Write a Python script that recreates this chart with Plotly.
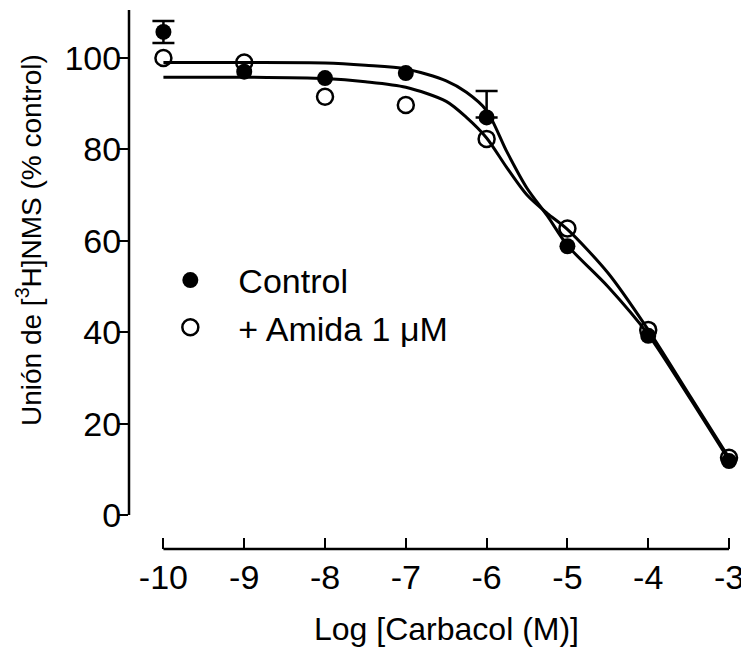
import plotly.graph_objects as go

# ---- data ----
log_carbacol = [-10, -9, -8, -7, -6, -5, -4, -3]
control_vals = [105.7, 97.0, 95.6, 96.7, 87.0, 58.8, 39.2, 11.8]
control_err_up = [2.4, 0, 0, 0, 5.8, 0, 0, 0]
control_err_down = [2.4, 0, 0, 0, 0, 0, 0, 0]
amida_vals = [100.0, 99.0, 91.5, 89.7, 82.3, 62.7, 40.5, 12.5]

# fitted curves
fit_x = [-10, -9, -8, -7.5, -7, -6.5, -6.25, -6, -5.75, -5.5, -5.25, -5, -4.5, -4, -3.5, -3]
fit_control = [99.0, 99.0, 98.9, 98.4, 97.6, 95.0, 92.5, 88.5, 79.5, 71.5, 65.5, 59.0, 50.0, 39.5, 26.0, 12.0]
fit_amida = [95.8, 95.8, 95.5, 94.8, 93.6, 90.5, 87.0, 82.5, 76.0, 70.0, 66.0, 62.5, 53.0, 40.5, 26.5, 12.5]

x_ticks = [-10, -9, -8, -7, -6, -5, -4, -3]
y_ticks = [0, 20, 40, 60, 80, 100]

FONT = "Liberation Sans, Arial, Helvetica, sans-serif"

# only the points that carry a visible error bar
err_idx = [i for i in range(len(log_carbacol))
           if control_err_up[i] > 0 or control_err_down[i] > 0]

fig = go.Figure()

fig.add_trace(go.Scatter(
    x=fit_x, y=fit_control, mode="lines",
    line=dict(color="black", width=3, shape="spline", smoothing=0.8),
    showlegend=False, hoverinfo="skip"))
fig.add_trace(go.Scatter(
    x=fit_x, y=fit_amida, mode="lines",
    line=dict(color="black", width=3, shape="spline", smoothing=0.8),
    showlegend=False, hoverinfo="skip"))

# error bars (SEM) for control
fig.add_trace(go.Scatter(
    x=[log_carbacol[i] for i in err_idx],
    y=[control_vals[i] for i in err_idx],
    mode="markers", marker=dict(size=1, color="rgba(0,0,0,0)"),
    error_y=dict(type="data", symmetric=False,
                 array=[control_err_up[i] for i in err_idx],
                 arrayminus=[control_err_down[i] for i in err_idx],
                 color="black", thickness=2.5, width=11),
    showlegend=False, hoverinfo="skip", cliponaxis=False))

fig.add_trace(go.Scatter(
    x=log_carbacol, y=control_vals, mode="markers", name="Control",
    marker=dict(symbol="circle", size=16, color="black"),
    cliponaxis=False))
fig.add_trace(go.Scatter(
    x=log_carbacol, y=amida_vals, mode="markers", name="+ Amida 1 μM",
    marker=dict(symbol="circle-open", size=16, color="black",
                line=dict(width=2.5, color="black")),
    cliponaxis=False))

# detached axis lines
fig.add_shape(type="line", xref="x", yref="paper", x0=-10, x1=-3, y0=0, y1=0,
              line=dict(color="black", width=2.5))
fig.add_shape(type="line", xref="paper", yref="y", x0=0, x1=0, y0=0, y1=110.5,
              line=dict(color="black", width=2.5))

# page body has an 8px margin, so the figure is drawn 8px smaller / shifted
fig.update_layout(
    width=741, height=643,
    margin=dict(l=121, r=14, t=2, b=102),
    paper_bgcolor="white", plot_bgcolor="white",
    font=dict(family=FONT, color="black", size=34),
    showlegend=True,
    legend=dict(x=0.022, y=0.552, xanchor="left", yanchor="top",
                font=dict(size=34, family=FONT), itemwidth=86,
                bgcolor="rgba(0,0,0,0)", tracegroupgap=0),
    xaxis=dict(range=[-10.426, -2.926], tickvals=x_ticks,
               ticktext=[str(v) for v in x_ticks],
               ticks="inside", ticklen=11, tickwidth=2, tickcolor="black",
               showline=False, showgrid=False, zeroline=False,
               ticklabelstandoff=5,
               tickfont=dict(size=34, family=FONT)),
    yaxis=dict(range=[-7.44, 110.5], tickvals=y_ticks,
               ticktext=[str(v) for v in y_ticks],
               ticks="outside", ticklen=9, tickwidth=2, tickcolor="black",
               showline=False, showgrid=False, zeroline=False,
               ticklabelstandoff=-9,
               tickfont=dict(size=34, family=FONT)),
    annotations=[
        dict(text="Log [Carbacol (M)]", xref="x", yref="paper",
             x=-6.5, y=(643 - 621 - 102) / 539.0, showarrow=False,
             xanchor="center", yanchor="middle",
             font=dict(size=32, family=FONT)),
        dict(text="Unión de [<sup>3</sup>H]NMS (% control)", xref="paper", yref="paper",
             x=(21 - 121) / 606.0, y=(541 - 232) / 539.0, showarrow=False,
             textangle=-90, xanchor="center", yanchor="middle",
             font=dict(size=28, family=FONT)),
    ],
)

fig.write_html("out.html")
